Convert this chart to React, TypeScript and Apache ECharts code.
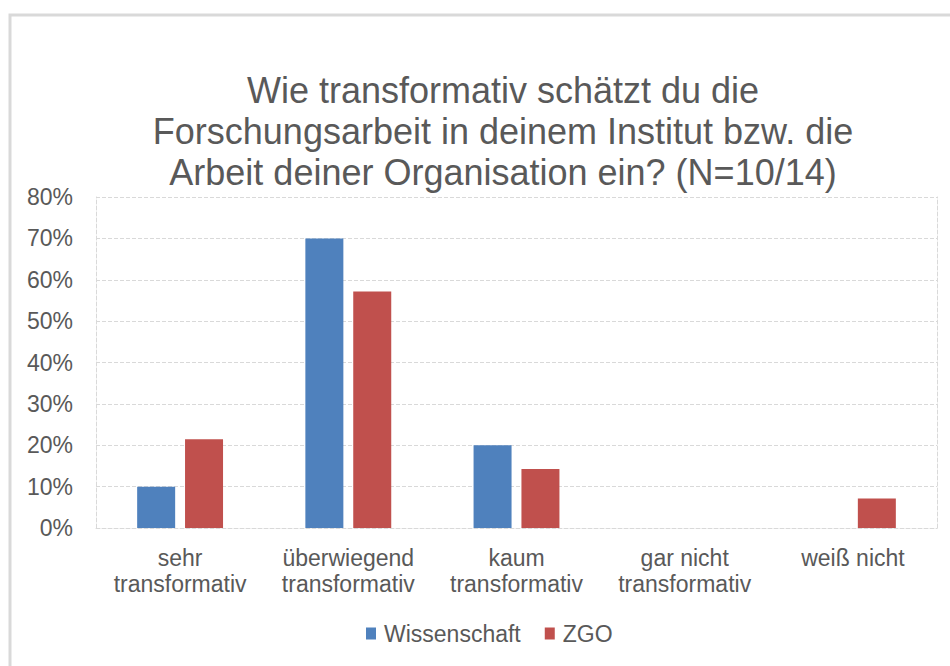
import React, { useEffect, useRef } from "react";
import * as echarts from "echarts";

const titleText =
  "Wie transformativ schätzt du die\nForschungsarbeit in deinem Institut bzw. die\nArbeit deiner Organisation ein? (N=10/14)";
const categories = [
  "sehr\ntransformativ",
  "überwiegend\ntransformativ",
  "kaum\ntransformativ",
  "gar nicht\ntransformativ",
  "weiß nicht",
];
const seriesNames = ["Wissenschaft", "ZGO"];
const wissenschaft = [10, 70, 20, 0, 0];
const zgo = [21.43, 57.14, 14.29, 0, 7.14];
const yMin = 0;
const yMax = 80;
const yInterval = 10;

const FONT = "'Liberation Sans', Arial, sans-serif";
const TEXT = "#595959";
const GRID = "#d9d9d9";

export default function App() {
  const ref = useRef<HTMLDivElement>(null);
  useEffect(() => {
    if (!ref.current) return;
    const chart = echarts.init(ref.current, undefined, { renderer: "svg" });
    chart.setOption({
      animation: false,
      backgroundColor: "#ffffff",
      textStyle: { fontFamily: FONT, color: TEXT },
      title: {
        text: titleText,
        left: 503,
        top: 70,
        padding: 0,
        textAlign: "center",
        textStyle: {
          fontFamily: FONT,
          fontSize: 36,
          fontWeight: "normal",
          color: TEXT,
          lineHeight: 41,
        },
      },
      graphic: [
        {
          type: "rect",
          silent: true,
          z: -10,
          shape: { x: 10, y: 15, width: 980, height: 720 },
          style: { fill: "none", stroke: GRID, lineWidth: 3 },
        },
      ],
      legend: {
        data: seriesNames,
        left: 366,
        top: 622,
        itemWidth: 10,
        itemHeight: 12,
        itemGap: 24,
        icon: "rect",
        textStyle: {
          fontFamily: FONT,
          fontSize: 23,
          color: TEXT,
          padding: [0, 0, 0, 3],
        },
        padding: 0,
      },
      grid: { left: 96, right: 13, top: 197, bottom: 138, containLabel: false },
      xAxis: {
        type: "category",
        data: categories,
        axisTick: { show: false },
        axisLine: { show: true, lineStyle: { color: GRID, type: "dashed", width: 1 } },
        axisLabel: {
          fontFamily: FONT,
          fontSize: 23,
          color: TEXT,
          lineHeight: 26,
          margin: 17,
          interval: 0,
        },
      },
      yAxis: [
        {
          type: "value",
          min: yMin,
          max: yMax,
          interval: yInterval,
          axisLine: { show: true, lineStyle: { color: GRID, type: "dashed", width: 1 } },
          axisTick: { show: false },
          splitLine: { show: true, lineStyle: { color: GRID, type: "dashed", width: 1 } },
          axisLabel: {
            formatter: "{value}%",
            fontFamily: FONT,
            fontSize: 23,
            color: TEXT,
            margin: 23,
          },
        },
        {
          type: "value",
          position: "right",
          min: yMin,
          max: yMax,
          interval: yInterval,
          axisLine: { show: true, lineStyle: { color: GRID, type: "dashed", width: 1 } },
          axisTick: { show: false },
          splitLine: { show: false },
          axisLabel: { show: false },
        },
      ],
      series: [
        {
          name: seriesNames[0],
          type: "bar",
          data: wissenschaft,
          barWidth: 38,
          barGap: "26%",
          itemStyle: { color: "#4F81BD" },
        },
        {
          name: seriesNames[1],
          type: "bar",
          data: zgo,
          barWidth: 38,
          barGap: "26%",
          itemStyle: { color: "#C0504D" },
        },
      ],
    });
    return () => chart.dispose();
  }, []);
  return (
    <div
      ref={ref}
      style={{ position: "fixed", left: 0, top: 0, width: 950, height: 666 }}
    />
  );
}
